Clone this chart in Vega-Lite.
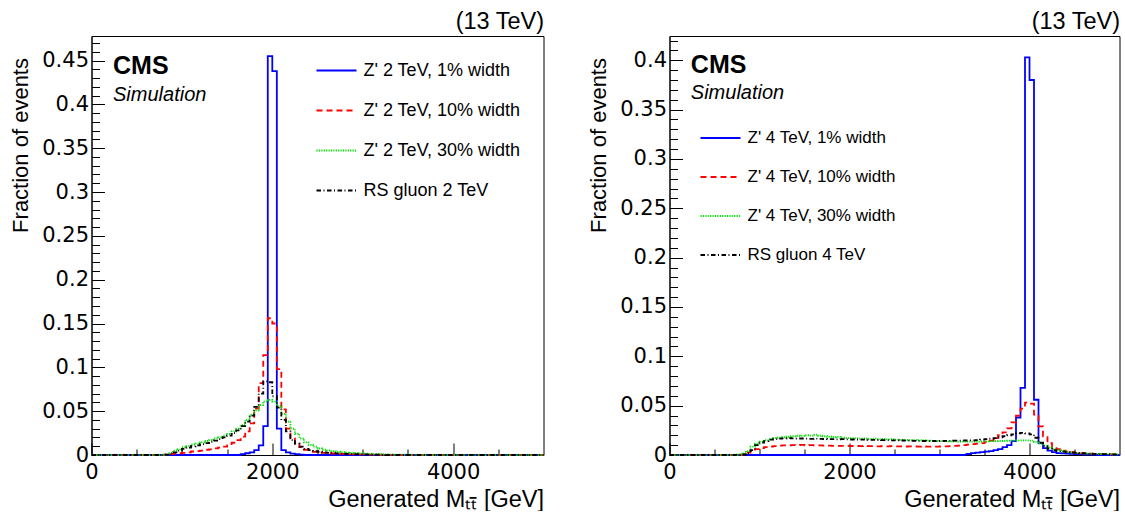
{
  "$schema": "https://vega.github.io/schema/vega-lite/v6.json",
  "padding": {"left": 8.5, "top": 9, "right": 0, "bottom": 0},
  "background": "white",
  "config": {
    "font": "Liberation Sans",
    "view": {"stroke": "#000000", "strokeWidth": 1},
    "axis": {"labelFont": "DejaVu Sans", "titleFont": "Liberation Sans", "labelColor": "#000000", "titleColor": "#000000", "tickColor": "#000000", "domainColor": "#000000", "grid": false, "titleFontWeight": "normal", "labelOverlap": false, "labelFlush": false},
    "legend": {"labelFont": "Liberation Sans", "labelColor": "#000000"},
    "title": {"font": "Liberation Sans", "fontWeight": "normal", "color": "#000000"}
  },
  "datasets": {
    "L": [
      {"s":"a","m":0,"f":0},{"s":"a","m":1650,"f":0.001},{"s":"a","m":1700,"f":0.002},{"s":"a","m":1750,"f":0.003},{"s":"a","m":1800,"f":0.0055},{"s":"a","m":1850,"f":0.011},{"s":"a","m":1900,"f":0.033},{"s":"a","m":1950,"f":0.455},{"s":"a","m":2000,"f":0.438},{"s":"a","m":2050,"f":0.030},{"s":"a","m":2100,"f":0.0055},{"s":"a","m":2150,"f":0.003},{"s":"a","m":2200,"f":0.0015},{"s":"a","m":2250,"f":0.001},{"s":"a","m":2300,"f":0.0005},{"s":"a","m":2350,"f":0},{"s":"a","m":5000,"f":0},
      {"s":"b","m":0,"f":0},{"s":"b","m":800,"f":0.0005},{"s":"b","m":850,"f":0.001},{"s":"b","m":900,"f":0.0015},{"s":"b","m":950,"f":0.002},{"s":"b","m":1000,"f":0.0025},{"s":"b","m":1050,"f":0.003},{"s":"b","m":1100,"f":0.004},{"s":"b","m":1150,"f":0.0045},{"s":"b","m":1200,"f":0.005},{"s":"b","m":1250,"f":0.006},{"s":"b","m":1300,"f":0.0065},{"s":"b","m":1350,"f":0.0075},{"s":"b","m":1400,"f":0.0085},{"s":"b","m":1450,"f":0.0095},{"s":"b","m":1500,"f":0.011},{"s":"b","m":1550,"f":0.014},{"s":"b","m":1600,"f":0.017},{"s":"b","m":1650,"f":0.021},{"s":"b","m":1700,"f":0.027},{"s":"b","m":1750,"f":0.036},{"s":"b","m":1800,"f":0.053},{"s":"b","m":1850,"f":0.082},{"s":"b","m":1900,"f":0.114},{"s":"b","m":1950,"f":0.156},{"s":"b","m":2000,"f":0.150},{"s":"b","m":2050,"f":0.098},{"s":"b","m":2100,"f":0.052},{"s":"b","m":2150,"f":0.030},{"s":"b","m":2200,"f":0.019},{"s":"b","m":2250,"f":0.013},{"s":"b","m":2300,"f":0.009},{"s":"b","m":2350,"f":0.006},{"s":"b","m":2400,"f":0.0045},{"s":"b","m":2450,"f":0.0035},{"s":"b","m":2500,"f":0.003},{"s":"b","m":2550,"f":0.0025},{"s":"b","m":2600,"f":0.002},{"s":"b","m":2650,"f":0.0017},{"s":"b","m":2700,"f":0.0015},{"s":"b","m":2750,"f":0.0012},{"s":"b","m":2800,"f":0.001},{"s":"b","m":2850,"f":0.0009},{"s":"b","m":2900,"f":0.0008},{"s":"b","m":2950,"f":0.0007},{"s":"b","m":3000,"f":0.0006},{"s":"b","m":3050,"f":0.0005},{"s":"b","m":3100,"f":0.0004},{"s":"b","m":3150,"f":0.0003},{"s":"b","m":3200,"f":0.0003},{"s":"b","m":3250,"f":0.0002},{"s":"b","m":3300,"f":0.0002},{"s":"b","m":3350,"f":0},{"s":"b","m":5000,"f":0},
      {"s":"c","m":0,"f":0},{"s":"c","m":800,"f":0.0005},{"s":"c","m":850,"f":0.0025},{"s":"c","m":900,"f":0.005},{"s":"c","m":950,"f":0.0065},{"s":"c","m":1000,"f":0.009},{"s":"c","m":1050,"f":0.010},{"s":"c","m":1100,"f":0.012},{"s":"c","m":1150,"f":0.013},{"s":"c","m":1200,"f":0.0145},{"s":"c","m":1250,"f":0.016},{"s":"c","m":1300,"f":0.017},{"s":"c","m":1350,"f":0.019},{"s":"c","m":1400,"f":0.020},{"s":"c","m":1450,"f":0.022},{"s":"c","m":1500,"f":0.024},{"s":"c","m":1550,"f":0.027},{"s":"c","m":1600,"f":0.030},{"s":"c","m":1650,"f":0.034},{"s":"c","m":1700,"f":0.040},{"s":"c","m":1750,"f":0.046},{"s":"c","m":1800,"f":0.051},{"s":"c","m":1850,"f":0.057},{"s":"c","m":1900,"f":0.061},{"s":"c","m":1950,"f":0.063},{"s":"c","m":2000,"f":0.061},{"s":"c","m":2050,"f":0.056},{"s":"c","m":2100,"f":0.047},{"s":"c","m":2150,"f":0.038},{"s":"c","m":2200,"f":0.030},{"s":"c","m":2250,"f":0.024},{"s":"c","m":2300,"f":0.019},{"s":"c","m":2350,"f":0.0145},{"s":"c","m":2400,"f":0.0115},{"s":"c","m":2450,"f":0.0095},{"s":"c","m":2500,"f":0.0075},{"s":"c","m":2550,"f":0.006},{"s":"c","m":2600,"f":0.0052},{"s":"c","m":2650,"f":0.0045},{"s":"c","m":2700,"f":0.0037},{"s":"c","m":2750,"f":0.0032},{"s":"c","m":2800,"f":0.0026},{"s":"c","m":2850,"f":0.0023},{"s":"c","m":2900,"f":0.002},{"s":"c","m":2950,"f":0.0017},{"s":"c","m":3000,"f":0.0015},{"s":"c","m":3050,"f":0.0013},{"s":"c","m":3100,"f":0.0011},{"s":"c","m":3150,"f":0.001},{"s":"c","m":3200,"f":0.0008},{"s":"c","m":3250,"f":0.0007},{"s":"c","m":3300,"f":0.0006},{"s":"c","m":3350,"f":0.0005},{"s":"c","m":3400,"f":0.0004},{"s":"c","m":3450,"f":0.0003},{"s":"c","m":3500,"f":0.0003},{"s":"c","m":3550,"f":0.0002},{"s":"c","m":3600,"f":0},{"s":"c","m":5000,"f":0},
      {"s":"d","m":0,"f":0},{"s":"d","m":800,"f":0.0005},{"s":"d","m":850,"f":0.0015},{"s":"d","m":900,"f":0.003},{"s":"d","m":950,"f":0.005},{"s":"d","m":1000,"f":0.007},{"s":"d","m":1050,"f":0.0085},{"s":"d","m":1100,"f":0.010},{"s":"d","m":1150,"f":0.011},{"s":"d","m":1200,"f":0.0125},{"s":"d","m":1250,"f":0.0135},{"s":"d","m":1300,"f":0.015},{"s":"d","m":1350,"f":0.0165},{"s":"d","m":1400,"f":0.018},{"s":"d","m":1450,"f":0.020},{"s":"d","m":1500,"f":0.022},{"s":"d","m":1550,"f":0.025},{"s":"d","m":1600,"f":0.028},{"s":"d","m":1650,"f":0.033},{"s":"d","m":1700,"f":0.038},{"s":"d","m":1750,"f":0.045},{"s":"d","m":1800,"f":0.055},{"s":"d","m":1850,"f":0.070},{"s":"d","m":1900,"f":0.084},{"s":"d","m":1950,"f":0.083},{"s":"d","m":2000,"f":0.067},{"s":"d","m":2050,"f":0.054},{"s":"d","m":2100,"f":0.040},{"s":"d","m":2150,"f":0.027},{"s":"d","m":2200,"f":0.017},{"s":"d","m":2250,"f":0.013},{"s":"d","m":2300,"f":0.0095},{"s":"d","m":2350,"f":0.007},{"s":"d","m":2400,"f":0.0055},{"s":"d","m":2450,"f":0.0045},{"s":"d","m":2500,"f":0.0037},{"s":"d","m":2550,"f":0.003},{"s":"d","m":2600,"f":0.0025},{"s":"d","m":2650,"f":0.0021},{"s":"d","m":2700,"f":0.0018},{"s":"d","m":2750,"f":0.0015},{"s":"d","m":2800,"f":0.0012},{"s":"d","m":2850,"f":0.001},{"s":"d","m":2900,"f":0.0009},{"s":"d","m":2950,"f":0.0008},{"s":"d","m":3000,"f":0.0006},{"s":"d","m":3050,"f":0.0005},{"s":"d","m":3100,"f":0.0004},{"s":"d","m":3150,"f":0.0003},{"s":"d","m":3200,"f":0.0002},{"s":"d","m":3250,"f":0},{"s":"d","m":5000,"f":0}
    ],
    "R": [
      {"s":"a","m":0,"f":0},{"s":"a","m":3300,"f":0.001},{"s":"a","m":3350,"f":0.002},{"s":"a","m":3400,"f":0.0025},{"s":"a","m":3450,"f":0.003},{"s":"a","m":3500,"f":0.0035},{"s":"a","m":3550,"f":0.004},{"s":"a","m":3600,"f":0.005},{"s":"a","m":3650,"f":0.006},{"s":"a","m":3700,"f":0.008},{"s":"a","m":3750,"f":0.010},{"s":"a","m":3800,"f":0.014},{"s":"a","m":3850,"f":0.038},{"s":"a","m":3900,"f":0.068},{"s":"a","m":3950,"f":0.403},{"s":"a","m":4000,"f":0.380},{"s":"a","m":4050,"f":0.056},{"s":"a","m":4100,"f":0.012},{"s":"a","m":4150,"f":0.007},{"s":"a","m":4200,"f":0.0045},{"s":"a","m":4250,"f":0.003},{"s":"a","m":4300,"f":0.002},{"s":"a","m":4350,"f":0.0017},{"s":"a","m":4400,"f":0.0015},{"s":"a","m":4450,"f":0.0012},{"s":"a","m":4500,"f":0.001},{"s":"a","m":4550,"f":0.0007},{"s":"a","m":4600,"f":0.0005},{"s":"a","m":4650,"f":0.0004},{"s":"a","m":4700,"f":0.0003},{"s":"a","m":4750,"f":0},{"s":"a","m":5000,"f":0},
      {"s":"b","m":0,"f":0},{"s":"b","m":800,"f":0.0005},{"s":"b","m":850,"f":0.0025},{"s":"b","m":900,"f":0.004},{"s":"b","m":950,"f":0.006},{"s":"b","m":1000,"f":0.007},{"s":"b","m":1050,"f":0.008},{"s":"b","m":1100,"f":0.0085},{"s":"b","m":1150,"f":0.009},{"s":"b","m":1200,"f":0.0095},{"s":"b","m":1250,"f":0.0097},{"s":"b","m":1300,"f":0.0099},{"s":"b","m":1350,"f":0.0101},{"s":"b","m":1400,"f":0.010},{"s":"b","m":1450,"f":0.0102},{"s":"b","m":1500,"f":0.0099},{"s":"b","m":1550,"f":0.0101},{"s":"b","m":1600,"f":0.0098},{"s":"b","m":1650,"f":0.0097},{"s":"b","m":1700,"f":0.0095},{"s":"b","m":1750,"f":0.0094},{"s":"b","m":1800,"f":0.0093},{"s":"b","m":1850,"f":0.0092},{"s":"b","m":1900,"f":0.0093},{"s":"b","m":1950,"f":0.0092},{"s":"b","m":2000,"f":0.0091},{"s":"b","m":2050,"f":0.0092},{"s":"b","m":2100,"f":0.009},{"s":"b","m":2150,"f":0.0091},{"s":"b","m":2200,"f":0.0089},{"s":"b","m":2250,"f":0.009},{"s":"b","m":2300,"f":0.0088},{"s":"b","m":2350,"f":0.0089},{"s":"b","m":2400,"f":0.0088},{"s":"b","m":2450,"f":0.0089},{"s":"b","m":2500,"f":0.0087},{"s":"b","m":2550,"f":0.0088},{"s":"b","m":2600,"f":0.0086},{"s":"b","m":2650,"f":0.0087},{"s":"b","m":2700,"f":0.0086},{"s":"b","m":2750,"f":0.0085},{"s":"b","m":2800,"f":0.0086},{"s":"b","m":2850,"f":0.0084},{"s":"b","m":2900,"f":0.0085},{"s":"b","m":2950,"f":0.0084},{"s":"b","m":3000,"f":0.0086},{"s":"b","m":3050,"f":0.0087},{"s":"b","m":3100,"f":0.009},{"s":"b","m":3150,"f":0.0092},{"s":"b","m":3200,"f":0.0095},{"s":"b","m":3250,"f":0.010},{"s":"b","m":3300,"f":0.0105},{"s":"b","m":3350,"f":0.011},{"s":"b","m":3400,"f":0.0115},{"s":"b","m":3450,"f":0.012},{"s":"b","m":3500,"f":0.013},{"s":"b","m":3550,"f":0.0145},{"s":"b","m":3600,"f":0.017},{"s":"b","m":3650,"f":0.020},{"s":"b","m":3700,"f":0.023},{"s":"b","m":3750,"f":0.027},{"s":"b","m":3800,"f":0.033},{"s":"b","m":3850,"f":0.040},{"s":"b","m":3900,"f":0.047},{"s":"b","m":3950,"f":0.053},{"s":"b","m":4000,"f":0.052},{"s":"b","m":4050,"f":0.041},{"s":"b","m":4100,"f":0.029},{"s":"b","m":4150,"f":0.019},{"s":"b","m":4200,"f":0.012},{"s":"b","m":4250,"f":0.008},{"s":"b","m":4300,"f":0.006},{"s":"b","m":4350,"f":0.0045},{"s":"b","m":4400,"f":0.0035},{"s":"b","m":4450,"f":0.0028},{"s":"b","m":4500,"f":0.0022},{"s":"b","m":4550,"f":0.0018},{"s":"b","m":4600,"f":0.0015},{"s":"b","m":4650,"f":0.0013},{"s":"b","m":4700,"f":0.0011},{"s":"b","m":4750,"f":0.001},{"s":"b","m":4800,"f":0.0009},{"s":"b","m":4850,"f":0.0008},{"s":"b","m":4900,"f":0.0007},{"s":"b","m":4950,"f":0.0006},{"s":"b","m":5000,"f":0.0006},
      {"s":"c","m":0,"f":0},{"s":"c","m":750,"f":0.0005},{"s":"c","m":800,"f":0.0015},{"s":"c","m":850,"f":0.004},{"s":"c","m":900,"f":0.0085},{"s":"c","m":950,"f":0.0115},{"s":"c","m":1000,"f":0.0135},{"s":"c","m":1050,"f":0.015},{"s":"c","m":1100,"f":0.016},{"s":"c","m":1150,"f":0.017},{"s":"c","m":1200,"f":0.0175},{"s":"c","m":1250,"f":0.018},{"s":"c","m":1300,"f":0.0185},{"s":"c","m":1350,"f":0.019},{"s":"c","m":1400,"f":0.0195},{"s":"c","m":1450,"f":0.0193},{"s":"c","m":1500,"f":0.020},{"s":"c","m":1550,"f":0.0196},{"s":"c","m":1600,"f":0.0205},{"s":"c","m":1650,"f":0.0195},{"s":"c","m":1700,"f":0.019},{"s":"c","m":1750,"f":0.0185},{"s":"c","m":1800,"f":0.018},{"s":"c","m":1850,"f":0.0183},{"s":"c","m":1900,"f":0.0175},{"s":"c","m":1950,"f":0.017},{"s":"c","m":2000,"f":0.0172},{"s":"c","m":2050,"f":0.0168},{"s":"c","m":2100,"f":0.0165},{"s":"c","m":2150,"f":0.0167},{"s":"c","m":2200,"f":0.0163},{"s":"c","m":2250,"f":0.0165},{"s":"c","m":2300,"f":0.016},{"s":"c","m":2350,"f":0.0162},{"s":"c","m":2400,"f":0.0158},{"s":"c","m":2450,"f":0.016},{"s":"c","m":2500,"f":0.0155},{"s":"c","m":2550,"f":0.0153},{"s":"c","m":2600,"f":0.0152},{"s":"c","m":2650,"f":0.015},{"s":"c","m":2700,"f":0.0151},{"s":"c","m":2750,"f":0.0148},{"s":"c","m":2800,"f":0.0147},{"s":"c","m":2850,"f":0.0145},{"s":"c","m":2900,"f":0.0143},{"s":"c","m":2950,"f":0.0142},{"s":"c","m":3000,"f":0.014},{"s":"c","m":3050,"f":0.0141},{"s":"c","m":3100,"f":0.0139},{"s":"c","m":3150,"f":0.0138},{"s":"c","m":3200,"f":0.0136},{"s":"c","m":3250,"f":0.0137},{"s":"c","m":3300,"f":0.0135},{"s":"c","m":3350,"f":0.0136},{"s":"c","m":3400,"f":0.0135},{"s":"c","m":3450,"f":0.0137},{"s":"c","m":3500,"f":0.0138},{"s":"c","m":3550,"f":0.014},{"s":"c","m":3600,"f":0.0141},{"s":"c","m":3650,"f":0.0142},{"s":"c","m":3700,"f":0.0144},{"s":"c","m":3750,"f":0.0145},{"s":"c","m":3800,"f":0.0146},{"s":"c","m":3850,"f":0.0147},{"s":"c","m":3900,"f":0.0148},{"s":"c","m":3950,"f":0.0149},{"s":"c","m":4000,"f":0.0146},{"s":"c","m":4050,"f":0.013},{"s":"c","m":4100,"f":0.0115},{"s":"c","m":4150,"f":0.0095},{"s":"c","m":4200,"f":0.0075},{"s":"c","m":4250,"f":0.006},{"s":"c","m":4300,"f":0.0048},{"s":"c","m":4350,"f":0.0038},{"s":"c","m":4400,"f":0.003},{"s":"c","m":4450,"f":0.0025},{"s":"c","m":4500,"f":0.002},{"s":"c","m":4550,"f":0.0017},{"s":"c","m":4600,"f":0.0015},{"s":"c","m":4650,"f":0.0013},{"s":"c","m":4700,"f":0.0011},{"s":"c","m":4750,"f":0.001},{"s":"c","m":4800,"f":0.0009},{"s":"c","m":4850,"f":0.0008},{"s":"c","m":4900,"f":0.0007},{"s":"c","m":4950,"f":0.0006},{"s":"c","m":5000,"f":0.0006},
      {"s":"d","m":0,"f":0},{"s":"d","m":800,"f":0.0005},{"s":"d","m":850,"f":0.002},{"s":"d","m":900,"f":0.005},{"s":"d","m":950,"f":0.010},{"s":"d","m":1000,"f":0.0125},{"s":"d","m":1050,"f":0.014},{"s":"d","m":1100,"f":0.0155},{"s":"d","m":1150,"f":0.016},{"s":"d","m":1200,"f":0.0165},{"s":"d","m":1250,"f":0.0168},{"s":"d","m":1300,"f":0.017},{"s":"d","m":1350,"f":0.0168},{"s":"d","m":1400,"f":0.0166},{"s":"d","m":1450,"f":0.0167},{"s":"d","m":1500,"f":0.0166},{"s":"d","m":1550,"f":0.0164},{"s":"d","m":1600,"f":0.0165},{"s":"d","m":1650,"f":0.0163},{"s":"d","m":1700,"f":0.0162},{"s":"d","m":1750,"f":0.016},{"s":"d","m":1800,"f":0.0161},{"s":"d","m":1850,"f":0.0159},{"s":"d","m":1900,"f":0.016},{"s":"d","m":1950,"f":0.0158},{"s":"d","m":2000,"f":0.0157},{"s":"d","m":2050,"f":0.0156},{"s":"d","m":2100,"f":0.0155},{"s":"d","m":2150,"f":0.0156},{"s":"d","m":2200,"f":0.0154},{"s":"d","m":2250,"f":0.0153},{"s":"d","m":2300,"f":0.0152},{"s":"d","m":2350,"f":0.0151},{"s":"d","m":2400,"f":0.015},{"s":"d","m":2450,"f":0.0149},{"s":"d","m":2500,"f":0.0148},{"s":"d","m":2550,"f":0.0147},{"s":"d","m":2600,"f":0.0146},{"s":"d","m":2650,"f":0.0145},{"s":"d","m":2700,"f":0.0144},{"s":"d","m":2750,"f":0.0143},{"s":"d","m":2800,"f":0.0142},{"s":"d","m":2850,"f":0.0141},{"s":"d","m":2900,"f":0.0142},{"s":"d","m":2950,"f":0.0141},{"s":"d","m":3000,"f":0.0142},{"s":"d","m":3050,"f":0.0143},{"s":"d","m":3100,"f":0.0144},{"s":"d","m":3150,"f":0.0145},{"s":"d","m":3200,"f":0.0146},{"s":"d","m":3250,"f":0.0147},{"s":"d","m":3300,"f":0.0148},{"s":"d","m":3350,"f":0.0149},{"s":"d","m":3400,"f":0.015},{"s":"d","m":3450,"f":0.0155},{"s":"d","m":3500,"f":0.016},{"s":"d","m":3550,"f":0.0165},{"s":"d","m":3600,"f":0.017},{"s":"d","m":3650,"f":0.018},{"s":"d","m":3700,"f":0.019},{"s":"d","m":3750,"f":0.020},{"s":"d","m":3800,"f":0.021},{"s":"d","m":3850,"f":0.022},{"s":"d","m":3900,"f":0.0225},{"s":"d","m":3950,"f":0.022},{"s":"d","m":4000,"f":0.021},{"s":"d","m":4050,"f":0.0175},{"s":"d","m":4100,"f":0.0125},{"s":"d","m":4150,"f":0.009},{"s":"d","m":4200,"f":0.0065},{"s":"d","m":4250,"f":0.005},{"s":"d","m":4300,"f":0.004},{"s":"d","m":4350,"f":0.0035},{"s":"d","m":4400,"f":0.003},{"s":"d","m":4450,"f":0.0026},{"s":"d","m":4500,"f":0.0022},{"s":"d","m":4550,"f":0.0019},{"s":"d","m":4600,"f":0.0016},{"s":"d","m":4650,"f":0.0014},{"s":"d","m":4700,"f":0.0012},{"s":"d","m":4750,"f":0.001},{"s":"d","m":4800,"f":0.0009},{"s":"d","m":4850,"f":0.0008},{"s":"d","m":4900,"f":0.0007},{"s":"d","m":4950,"f":0.0006},{"s":"d","m":5000,"f":0.0006}
    ]
  },
  "spacing": 38,
  "resolve": {"scale": {"color": "independent", "strokeDash": "independent"}, "legend": {"color": "independent", "strokeDash": "independent"}},
  "hconcat": [
    {
      "width": 452,
      "height": 419,
      "title": {"text": "(13 TeV)", "anchor": "end", "fontSize": 23.5, "baseline": "alphabetic", "offset": -16, "dx": -3},
      "resolve": {"axis": {"x": "independent", "y": "independent"}},
      "layer": [
        {
          "data": {"name": "L"},
          "mark": {"type": "line", "interpolate": "step-after", "strokeWidth": 1.8},
          "encoding": {
            "x": {"field": "m", "type": "quantitative", "scale": {"domain": [0, 5000], "nice": false, "zero": false},
                  "axis": {"values": [0, 2000, 4000], "format": "d", "tickSize": -12, "labelPadding": 18, "labelFontSize": 21, "title": "Generated M\u209c\u209c\u0304 [GeV]", "titleFontSize": 23.5, "titleAnchor": "end", "titlePadding": 5}},
            "y": {"field": "f", "type": "quantitative", "scale": {"domain": [0, 0.478], "nice": false},
                  "axis": {"values": [0, 0.05, 0.1, 0.15, 0.2, 0.25, 0.3, 0.35, 0.4, 0.45], "format": "~g", "tickSize": -13, "labelPadding": 16, "labelFontSize": 21, "title": "Fraction of events", "titleFontSize": 22, "titleAnchor": "end", "titleY": 21.5, "titlePadding": 9}},
            "color": {"field": "s", "type": "nominal", "scale": {"domain": ["a", "b", "c", "d"], "range": ["#0000ff", "#ff0000", "#00dd00", "#000000"]},
                      "legend": {"orient": "none", "legendX": 224, "legendY": 13.5, "title": null, "symbolType": "stroke", "symbolSize": 1600, "symbolStrokeWidth": 1.8, "labelFontSize": 18, "labelOffset": 6, "rowPadding": 10, "padding": 0, "labelLimit": 400,
                                 "labelExpr": "datum.label == 'a' ? \"Z' 2 TeV, 1% width\" : datum.label == 'b' ? \"Z' 2 TeV, 10% width\" : datum.label == 'c' ? \"Z' 2 TeV, 30% width\" : 'RS gluon 2 TeV'"}},
            "strokeDash": {"field": "s", "type": "nominal", "scale": {"domain": ["a", "b", "c", "d"], "range": [[1, 0], [6, 4], [1.2, 1.2], [4.5, 2.5, 1, 2.5]]},
                      "legend": {"orient": "none", "legendX": 224, "legendY": 13.5, "title": null, "symbolType": "stroke", "symbolSize": 1600, "symbolStrokeWidth": 1.8, "labelFontSize": 18, "labelOffset": 6, "rowPadding": 10, "padding": 0, "labelLimit": 400,
                                 "labelExpr": "datum.label == 'a' ? \"Z' 2 TeV, 1% width\" : datum.label == 'b' ? \"Z' 2 TeV, 10% width\" : datum.label == 'c' ? \"Z' 2 TeV, 30% width\" : 'RS gluon 2 TeV'"}}
          }
        },
        {
          "data": {"values": [{"t": "CMS"}]},
          "mark": {"type": "text", "fontWeight": "bold", "fontSize": 25, "align": "left", "baseline": "alphabetic", "color": "#000000"},
          "encoding": {
            "text": {"field": "t"},
            "x": {"datum": 238, "type": "quantitative", "axis": {"orient": "bottom", "values": [500, 1000, 1500, 2500, 3000, 3500, 4500], "tickSize": -6, "labels": false, "domain": false, "title": null}},
            "y": {"datum": 0.435, "type": "quantitative", "axis": {"orient": "left", "values": [0.01,0.02,0.03,0.04,0.06,0.07,0.08,0.09,0.11,0.12,0.13,0.14,0.16,0.17,0.18,0.19,0.21,0.22,0.23,0.24,0.26,0.27,0.28,0.29,0.31,0.32,0.33,0.34,0.36,0.37,0.38,0.39,0.41,0.42,0.43,0.44,0.46,0.47], "tickSize": -8, "labels": false, "domain": false, "title": null}}
          }
        },
        {
          "data": {"values": [{"t": "Simulation"}]},
          "mark": {"type": "text", "fontStyle": "italic", "fontSize": 20, "align": "left", "baseline": "alphabetic", "color": "#000000"},
          "encoding": {
            "text": {"field": "t"},
            "x": {"datum": 238, "type": "quantitative", "axis": null},
            "y": {"datum": 0.404, "type": "quantitative", "axis": null}
          }
        }
      ]
    },
    {
      "width": 450,
      "height": 419,
      "title": {"text": "(13 TeV)", "anchor": "end", "fontSize": 23.5, "baseline": "alphabetic", "offset": -16, "dx": -3},
      "resolve": {"axis": {"x": "independent", "y": "independent"}},
      "layer": [
        {
          "data": {"name": "R"},
          "mark": {"type": "line", "interpolate": "step-after", "strokeWidth": 1.8},
          "encoding": {
            "x": {"field": "m", "type": "quantitative", "scale": {"domain": [0, 5000], "nice": false, "zero": false},
                  "axis": {"values": [0, 2000, 4000], "format": "d", "tickSize": -12, "labelPadding": 18, "labelFontSize": 21, "title": "Generated M\u209c\u209c\u0304 [GeV]", "titleFontSize": 23.5, "titleAnchor": "end", "titlePadding": 5}},
            "y": {"field": "f", "type": "quantitative", "scale": {"domain": [0, 0.4246], "nice": false},
                  "axis": {"values": [0, 0.05, 0.1, 0.15, 0.2, 0.25, 0.3, 0.35, 0.4], "format": "~g", "tickSize": -13, "labelPadding": 16, "labelFontSize": 21, "title": "Fraction of events", "titleFontSize": 22, "titleAnchor": "end", "titleY": 21.5, "titlePadding": 9}},
            "color": {"field": "s", "type": "nominal", "scale": {"domain": ["a", "b", "c", "d"], "range": ["#0000ff", "#ff0000", "#00dd00", "#000000"]},
                      "legend": {"orient": "none", "legendX": 30, "legendY": 81, "title": null, "symbolType": "stroke", "symbolSize": 1600, "symbolStrokeWidth": 1.8, "labelFontSize": 17, "labelOffset": 6, "rowPadding": 10, "padding": 0, "labelLimit": 400,
                                 "labelExpr": "datum.label == 'a' ? \"Z' 4 TeV, 1% width\" : datum.label == 'b' ? \"Z' 4 TeV, 10% width\" : datum.label == 'c' ? \"Z' 4 TeV, 30% width\" : 'RS gluon 4 TeV'"}},
            "strokeDash": {"field": "s", "type": "nominal", "scale": {"domain": ["a", "b", "c", "d"], "range": [[1, 0], [6, 4], [1.2, 1.2], [4.5, 2.5, 1, 2.5]]},
                      "legend": {"orient": "none", "legendX": 30, "legendY": 81, "title": null, "symbolType": "stroke", "symbolSize": 1600, "symbolStrokeWidth": 1.8, "labelFontSize": 17, "labelOffset": 6, "rowPadding": 10, "padding": 0, "labelLimit": 400,
                                 "labelExpr": "datum.label == 'a' ? \"Z' 4 TeV, 1% width\" : datum.label == 'b' ? \"Z' 4 TeV, 10% width\" : datum.label == 'c' ? \"Z' 4 TeV, 30% width\" : 'RS gluon 4 TeV'"}}
          }
        },
        {
          "data": {"values": [{"t": "CMS"}]},
          "mark": {"type": "text", "fontWeight": "bold", "fontSize": 25, "align": "left", "baseline": "alphabetic", "color": "#000000"},
          "encoding": {
            "text": {"field": "t"},
            "x": {"datum": 237, "type": "quantitative", "axis": {"orient": "bottom", "values": [500, 1000, 1500, 2500, 3000, 3500, 4500], "tickSize": -6, "labels": false, "domain": false, "title": null}},
            "y": {"datum": 0.3866, "type": "quantitative", "axis": {"orient": "left", "values": [0.01,0.02,0.03,0.04,0.06,0.07,0.08,0.09,0.11,0.12,0.13,0.14,0.16,0.17,0.18,0.19,0.21,0.22,0.23,0.24,0.26,0.27,0.28,0.29,0.31,0.32,0.33,0.34,0.36,0.37,0.38,0.39,0.41,0.42], "tickSize": -8, "labels": false, "domain": false, "title": null}}
          }
        },
        {
          "data": {"values": [{"t": "Simulation"}]},
          "mark": {"type": "text", "fontStyle": "italic", "fontSize": 20, "align": "left", "baseline": "alphabetic", "color": "#000000"},
          "encoding": {
            "text": {"field": "t"},
            "x": {"datum": 237, "type": "quantitative", "axis": null},
            "y": {"datum": 0.3612, "type": "quantitative", "axis": null}
          }
        }
      ]
    }
  ]
}
